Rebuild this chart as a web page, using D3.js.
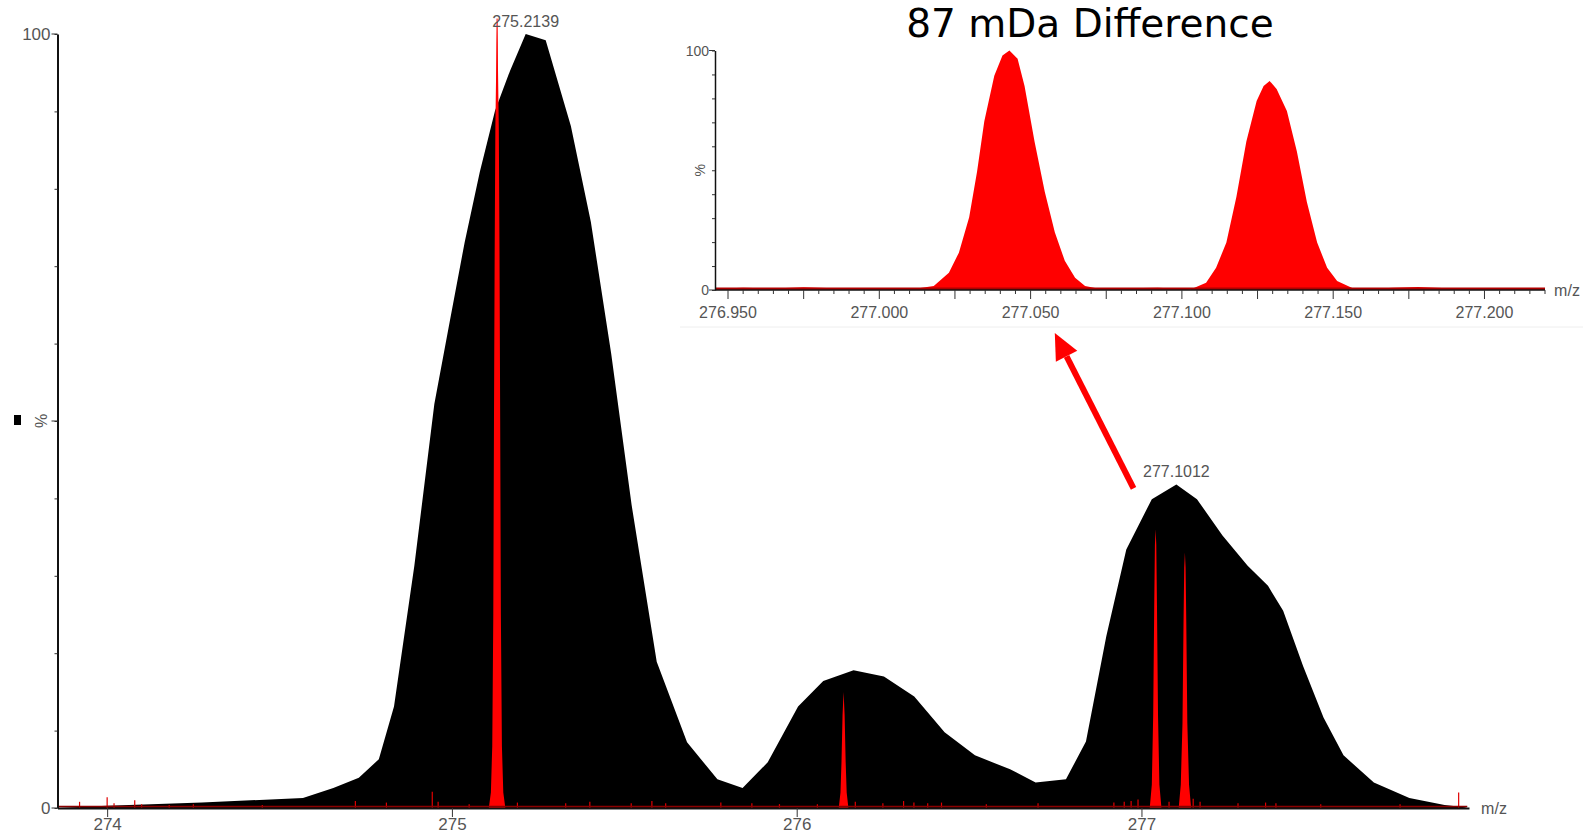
<!DOCTYPE html>
<html><head><meta charset="utf-8">
<script src="https://cdn.jsdelivr.net/npm/d3@7"></script>
<style>
html,body{margin:0;padding:0;background:#fff;overflow:hidden}
svg{display:block}
.tick-label{font-family:"Liberation Sans",Arial,sans-serif;font-size:16px;fill:#555}
</style></head>
<body>
<svg id="chart" width="1583" height="839"></svg>
<script>
// ---------- DATA ----------
const mainXTicks = [274, 275, 276, 277];
const mainYLabels = ["0", "%", "100"];
const insetXTicks = [276.95, 277.00, 277.05, 277.10, 277.15, 277.20];
const insetXTickLabels = ["276.950", "277.000", "277.050", "277.100", "277.150", "277.200"];
const title = "87 mDa Difference";
const peakLabels = [["275.2139", 275.2139, 100], ["277.1012", 277.1012, 41.8]];

// low resolution profile (black), [m/z, %]
const lowResProfile = [
  [273.856,0],[274.0,0.3],[274.275,0.7],[274.568,1.3],[274.656,2.6],[274.730,3.9],[274.788,6.3],
  [274.832,13.1],[274.891,31.3],[274.949,52.2],[274.993,62.7],[275.037,73.1],[275.081,82.2],
  [275.125,90.1],[275.169,95.3],[275.214,100],[275.272,99.2],[275.345,88.1],[275.403,75.7],
  [275.462,58.7],[275.521,39.2],[275.594,18.9],[275.682,8.5],[275.770,3.7],[275.843,2.6],
  [275.916,5.9],[276.004,13.1],[276.077,16.4],[276.165,17.8],[276.253,17.0],[276.341,14.4],
  [276.429,9.8],[276.517,6.8],[276.619,5.0],[276.693,3.3],[276.781,3.7],[276.839,8.6],
  [276.898,22.2],[276.956,33.4],[277.030,39.9],[277.1012,41.8],[277.161,39.9],[277.235,35.2],
  [277.308,31.3],[277.367,28.7],[277.411,25.5],[277.469,18.3],[277.528,11.7],[277.586,6.8],
  [277.674,3.3],[277.777,1.3],[277.879,0.4],[277.938,0.1],[277.945,0]
];

// high resolution peaks (red) in the main chart, [m/z, %]
const hrPeak1 = [[275.107,0],[275.113,2],[275.117,8],[275.120,25],[275.122,50],[275.124,72],[275.126,88],
  [275.1295,99],[275.131,102],[275.1325,99],[275.136,88],[275.138,72],[275.140,50],[275.142,25],
  [275.145,8],[275.149,2],[275.155,0]];
const hrPeak2 = [[276.122,0],[276.127,2],[276.130,6],[276.133,12],[276.136,15],[276.139,12],[276.142,6],[276.145,2],[276.150,0]];
const hrPeak3 = [[277.024,0],[277.030,3],[277.034,12],[277.037,26],[277.039,34],[277.041,36],[277.043,34],[277.045,26],[277.048,12],[277.052,3],[277.058,0]];
const hrPeak4 = [[277.108,0],[277.114,3],[277.119,11],[277.122,24],[277.124,31],[277.126,33],[277.128,31],[277.130,24],[277.133,11],[277.138,3],[277.144,0]];
// baseline noise spikes of the red trace, [m/z, %]
const hrNoise = [[273.92,0.8],[274.0,1.4],[274.02,0.6],[274.08,1.0],[274.1,0.5],[274.18,0.4],[274.25,0.5],
  [274.45,0.4],[274.72,0.9],[274.81,0.7],[274.943,2.1],[274.96,0.8],[275.05,0.5],[275.19,0.7],
  [275.33,0.6],[275.40,0.8],[275.52,0.6],[275.58,0.9],[275.62,0.6],[275.78,0.7],[275.87,0.6],
  [275.95,0.5],[276.06,0.5],[276.17,0.8],[276.25,0.6],[276.31,0.9],[276.34,0.7],[276.38,0.6],
  [276.42,0.7],[276.55,0.5],[276.70,0.6],[276.92,0.7],[276.95,0.8],[276.97,0.9],[276.99,1.1],
  [277.08,0.8],[277.15,1.2],[277.17,0.8],[277.28,0.6],[277.36,0.7],[277.39,0.6],[277.52,0.5],
  [277.75,0.5],[277.92,2.0]];

// inset high resolution trace (red), [m/z, %]
const insetTrace = [
  [276.9457,0.5],[276.955,0.9],[276.965,0.6],[276.975,1.1],[276.985,0.7],[276.995,0.5],[277.005,0.8],
  [277.0113,0.4],[277.018,1.7],[277.023,7.2],[277.0263,15.6],[277.0297,30.4],[277.0323,49.4],
  [277.0347,70.5],[277.038,89.5],[277.0407,97.9],[277.043,100],[277.0457,96.6],[277.048,85.2],
  [277.0513,62.0],[277.0547,40.9],[277.058,24.1],[277.0613,12.2],[277.0647,5.1],[277.068,1.7],
  [277.073,0.4],[277.082,0.7],[277.092,0.9],[277.103,0.3],[277.108,3.0],[277.1113,9.3],
  [277.1147,19.8],[277.118,38.8],[277.1213,62.0],[277.1247,78.9],[277.127,85.2],[277.129,87.3],
  [277.1313,83.9],[277.1347,74.7],[277.138,57.8],[277.1413,36.7],[277.1447,19.8],[277.148,9.3],
  [277.1513,3.8],[277.1563,0.8],[277.1613,0.4],[277.170,0.9],[277.178,1.3],[277.188,0.7],
  [277.198,0.8],[277.208,0.5],[277.22,0.6]
];

// ---------- DRAW ----------
const svg = d3.select("#chart");

// main scales
const x = d3.scaleLinear().domain([273.856, 277.95]).range([57.5, 1469]);
const y = d3.scaleLinear().domain([0, 100]).range([808, 34]);

const area = (xs, ys) => d3.area().x(d => xs(d[0])).y0(ys(0)).y1(d => ys(d[1])).curve(d3.curveLinear);

const main = svg.append("g");
main.append("path").datum(lowResProfile).attr("d", area(x, y)).attr("fill", "#000");

// red trace
[hrPeak1, hrPeak2, hrPeak3, hrPeak4].forEach(p => {
  main.append("path").datum(p).attr("d", area(x, y)).attr("fill", "#ff0000");
});
main.selectAll("line.noise").data(hrNoise).join("line").attr("class", "noise")
  .attr("x1", d => x(d[0])).attr("x2", d => x(d[0]))
  .attr("y1", y(0)).attr("y2", d => y(d[1]))
  .attr("stroke", "#e00000").attr("stroke-width", 1.2);
main.append("line").attr("x1", x(275.131)).attr("x2", x(275.131))
  .attr("y1", y(60)).attr("y2", y(102)).attr("stroke", "#ff0000").attr("stroke-width", 1);

// main axes
const xAxis = d3.axisBottom(x).tickValues(mainXTicks).tickFormat(d3.format("d")).tickSize(9).tickSizeOuter(0);
const gx = main.append("g").attr("transform", `translate(0,${y(0)})`).call(xAxis);
gx.select(".domain").attr("stroke", "#111").attr("stroke-width", 2);
gx.selectAll(".tick line").attr("stroke", "#333").attr("stroke-width", 1);
gx.selectAll(".tick text").attr("class", "tick-label").style("font-size", "17px").attr("dy", "0.85em").attr("y", 8);
main.append("line").attr("x1", x(273.856)).attr("x2", x(277.945)).attr("y1", y(0) - 1.5).attr("y2", y(0) - 1.5)
  .attr("stroke", "#8a0000").attr("stroke-width", 1.5);
main.append("text").attr("class", "tick-label").attr("x", x(277.95) + 25).attr("y", y(0) + 6)
  .attr("text-anchor", "middle").text("m/z");

const yAxis = d3.axisLeft(y).tickValues(d3.range(0, 101, 10)).tickSize(3).tickFormat("").tickSizeOuter(0);
const gy = main.append("g").attr("transform", `translate(${x(273.856)},0)`).call(yAxis);
gy.select(".domain").attr("stroke", "#111").attr("stroke-width", 2);
gy.selectAll(".tick line").attr("stroke", "#333");
[0, 50, 100].forEach(v => {
  main.append("line").attr("x1", x(273.856) - 6).attr("x2", x(273.856)).attr("y1", y(v)).attr("y2", y(v)).attr("stroke", "#333");
});
main.append("text").attr("class", "tick-label").attr("x", x(273.856) - 7).attr("y", y(0) + 6).attr("text-anchor", "end").style("font-size", "17px").text(mainYLabels[0]);
main.append("text").attr("class", "tick-label").attr("x", x(273.856) - 7).attr("y", y(100) + 6).attr("text-anchor", "end").style("font-size", "17px").text(mainYLabels[2]);
main.append("text").attr("class", "tick-label")
  .attr("transform", `translate(${x(273.856) - 16},${y(50)}) rotate(-90)`)
  .attr("text-anchor", "middle").attr("dy", "0.35em").text(mainYLabels[1]);
main.append("rect").attr("x", 14).attr("y", y(50) - 6).attr("width", 7).attr("height", 10).attr("fill", "#000");

// peak labels
peakLabels.forEach(([t, mz, v]) => {
  main.append("text").attr("class", "tick-label").attr("x", x(mz)).attr("y", y(v) - 7)
    .attr("text-anchor", "middle").text(t);
});

// ---------- INSET ----------
const xi = d3.scaleLinear().domain([276.9457, 277.22]).range([715, 1545]);
const yi = d3.scaleLinear().domain([0, 100]).range([290, 50.5]);
const inset = svg.append("g");
inset.append("rect").attr("x", 680).attr("y", 40).attr("width", 903).attr("height", 287).attr("fill", "#fff");
inset.append("line").attr("x1", 680).attr("x2", 1583).attr("y1", 327).attr("y2", 327).attr("stroke", "#eee").attr("stroke-width", 1);
inset.append("path").datum(insetTrace).attr("d", area(xi, yi)).attr("fill", "#ff0000");
inset.append("line").attr("x1", xi(276.9457)).attr("x2", xi(277.22)).attr("y1", yi(0) - 1.5).attr("y2", yi(0) - 1.5)
  .attr("stroke", "#b00000").attr("stroke-width", 2);

const insetMinor = d3.range(0, 55).map(i => 276.95 + i * 0.005).filter(v => v <= 277.22);
const gxi = inset.append("g").attr("transform", `translate(0,${yi(0)})`);
gxi.append("line").attr("x1", xi(276.9457)).attr("x2", xi(277.22)).attr("stroke", "#111").attr("stroke-width", 1.5);
gxi.selectAll("line.mt").data(insetMinor).join("line").attr("class", "mt")
  .attr("x1", d => xi(d)).attr("x2", d => xi(d)).attr("y1", 0)
  .attr("y2", (d, i) => i % 5 === 0 ? 9 : 4).attr("stroke", "#333").attr("stroke-width", 1);
gxi.selectAll("text").data(insetXTicks).join("text").attr("class", "tick-label")
  .attr("x", d => xi(d)).attr("y", 28).attr("text-anchor", "middle")
  .text((d, i) => insetXTickLabels[i]);
inset.append("text").attr("class", "tick-label").attr("x", xi(277.22) + 22).attr("y", yi(0) + 6)
  .attr("text-anchor", "middle").text("m/z");

const gyi = inset.append("g").attr("transform", `translate(${xi(276.9457)},0)`)
  .call(d3.axisLeft(yi).tickValues(d3.range(0, 101, 10)).tickSize(3).tickFormat("").tickSizeOuter(0));
gyi.select(".domain").attr("stroke", "#111").attr("stroke-width", 1.5);
gyi.selectAll(".tick line").attr("stroke", "#333");
[0, 100].forEach(v => inset.append("line").attr("x1", xi(276.9457) - 6).attr("x2", xi(276.9457)).attr("y1", yi(v)).attr("y2", yi(v)).attr("stroke", "#333"));
inset.append("text").attr("class", "tick-label").attr("x", xi(276.9457) - 6).attr("y", yi(0) + 5).attr("text-anchor", "end").style("font-size", "14px").text("0");
inset.append("text").attr("class", "tick-label").attr("x", xi(276.9457) - 6).attr("y", yi(100) + 5).attr("text-anchor", "end").style("font-size", "14px").text("100");
inset.append("text").attr("class", "tick-label")
  .attr("transform", `translate(${xi(276.9457) - 15},${yi(50)}) rotate(-90)`)
  .attr("text-anchor", "middle").attr("dy", "0.35em").style("font-size", "14px").text("%");

// title
svg.append("text").attr("x", 1090).attr("y", 37).attr("text-anchor", "middle")
  .style("font-family", "'DejaVu Sans', Verdana, sans-serif").style("font-size", "39px").attr("fill", "#000")
  .text(title);

// arrow from main peak to inset axis
const tail = [x(276.977), y(41.3)];
const tip = [xi(277.058), yi(-18)];
const ang = Math.atan2(tip[1] - tail[1], tip[0] - tail[0]);
const headLen = 26, headW = 12;
const base = [tip[0] - headLen * Math.cos(ang), tip[1] - headLen * Math.sin(ang)];
svg.append("line").attr("x1", tail[0]).attr("y1", tail[1]).attr("x2", base[0]).attr("y2", base[1])
  .attr("stroke", "#ff0000").attr("stroke-width", 6);
svg.append("path").attr("fill", "#ff0000").attr("d", d3.line()([
  tip,
  [base[0] + headW * Math.sin(ang), base[1] - headW * Math.cos(ang)],
  [base[0] - headW * Math.sin(ang), base[1] + headW * Math.cos(ang)]
]));
</script>
</body></html>
